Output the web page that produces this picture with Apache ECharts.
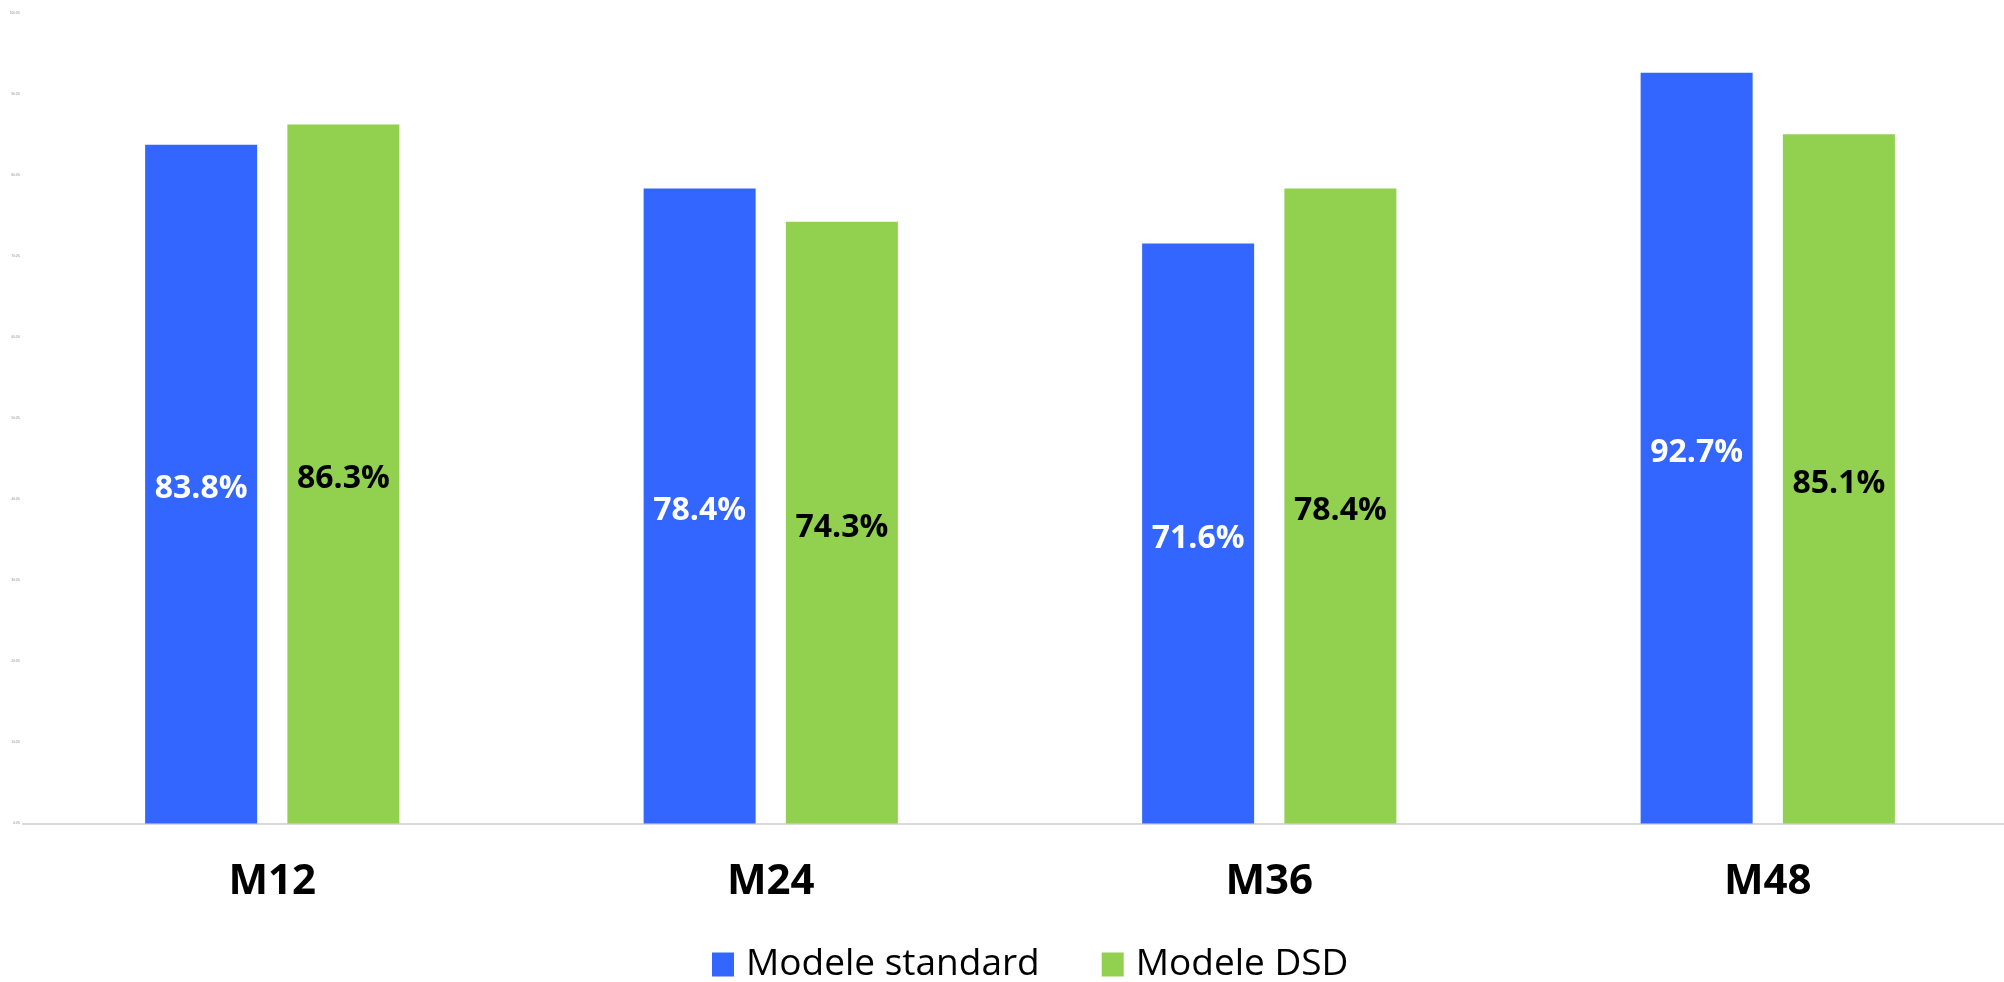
<!DOCTYPE html>
<html>
<head>
<meta charset="utf-8">
<script src="https://cdn.jsdelivr.net/npm/echarts@6/dist/echarts.min.js"></script>
<style>
  html, body { margin: 0; padding: 0; background: #fff; }
  #chart { width: 2004px; height: 982px; }
</style>
</head>
<body>
<div id="chart"></div>
<script>
// categories + series values (percent)
const categories = ["M12", "M24", "M36", "M48"];
const standardValues = [83.8, 78.4, 71.6, 92.7];
const dsdValues = [86.3, 74.3, 78.4, 85.1];
const seriesNames = ["Modele standard", "Modele DSD"];

const myChart = echarts.init(document.getElementById("chart"));

const valueLabel = (color) => ({
  show: true,
  position: "inside",
  offset: [0, 5],
  formatter: (p) => p.value.toFixed(1) + "%",
  fontFamily: "Open Sans",
  fontWeight: "bold",
  fontSize: 32,
  color: color,
});

const option = {
  animation: false,
  grid: {
    left: 23,
    top: 13.5,
    width: 1994,
    height: 810,
    containLabel: false,
    outerBoundsMode: "none",
  },
  legend: {
    data: seriesNames,
    left: 707,
    top: 941,
    itemWidth: 22,
    itemHeight: 24,
    itemGap: 62,
    icon: "rect",
    textStyle: {
      fontFamily: "Open Sans",
      fontSize: 37,
      color: "#000",
      padding: [0, 0, 0, 7],
    },
  },
  xAxis: {
    type: "category",
    data: categories,
    axisLine: { lineStyle: { color: "#d9d9d9", width: 2 } },
    axisTick: { show: false },
    axisLabel: {
      margin: 38,
      fontFamily: "Open Sans",
      fontWeight: "bold",
      fontSize: 42,
      color: "#000",
    },
  },
  yAxis: {
    type: "value",
    min: 0,
    max: 100,
    interval: 10,
    splitLine: { show: false },
    axisLine: { show: false },
    axisTick: { show: false },
    axisLabel: {
      fontSize: 3,
      color: "#888",
      margin: 3,
      formatter: (v) => v.toFixed(1) + "%",
    },
  },
  series: [
    {
      name: seriesNames[0],
      type: "bar",
      data: standardValues,
      barWidth: 112,
      barGap: "27%",
      itemStyle: { color: "#3366ff" },
      label: valueLabel("#fff"),
    },
    {
      name: seriesNames[1],
      type: "bar",
      data: dsdValues,
      barWidth: 112,
      itemStyle: { color: "#92d050" },
      label: valueLabel("#000"),
    },
  ],
};

myChart.setOption(option, true);
window.addEventListener("resize", () => {
  myChart.resize();
});
</script>
</body>
</html>
